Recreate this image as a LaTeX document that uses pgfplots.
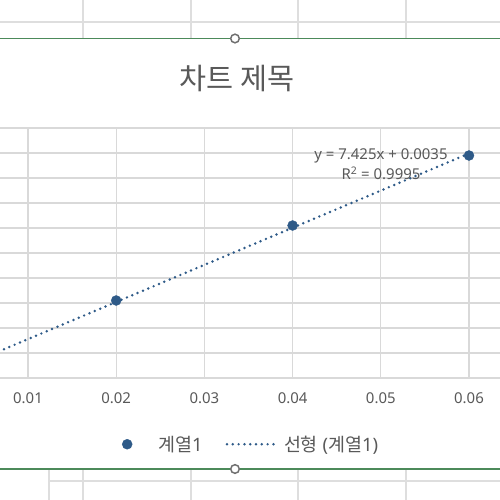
\documentclass[border=0pt]{standalone}
\usepackage{fontspec}
\setmainfont{Noto Sans}
\newfontfamily\kr{Noto Sans CJK KR}
\usepackage{pgfplots}
\pgfplotsset{compat=1.18}
\definecolor{txt}{HTML}{595959}
\definecolor{gridc}{HTML}{D9D9D9}
\definecolor{ser}{HTML}{2E5A88}
\definecolor{cellc}{HTML}{DEDEDE}
\definecolor{selg}{HTML}{4C8A5A}
\definecolor{handle}{HTML}{707070}
\begin{document}
\begin{tikzpicture}
\useasboundingbox (0bp,0bp) rectangle (500bp,500bp);
\clip (0bp,0bp) rectangle (500bp,500bp);
\fill[white] (0bp,0bp) rectangle (500bp,500bp);
% spreadsheet cells
\draw[cellc, line width=1.2bp] (0bp,478bp) -- (500bp,478bp);
\foreach \x in {83,191,298,406} \draw[cellc, line width=1.2bp] (\x bp,500bp) -- (\x bp,461.5bp);
\draw[cellc, line width=1.2bp] (49bp,19bp) -- (500bp,19bp);
\foreach \x in {49,83,191,298,406} \draw[cellc, line width=1.2bp] (\x bp,31bp) -- (\x bp,0bp);
% selection border
\draw[selg, line width=1.3bp] (0bp,461.5bp) -- (500bp,461.5bp);
\draw[selg, line width=1.3bp] (0bp,31bp) -- (500bp,31bp);
\draw[handle, fill=white, line width=1.5bp] (235bp,461.5bp) circle (4.3bp);
\draw[handle, fill=white, line width=1.5bp] (235bp,31bp) circle (4.3bp);
\begin{axis}[
  at={(-60.2bp,122bp)}, anchor=south west,
  scale only axis, width=617.4bp, height=250bp,
  xmin=0, xmax=0.07, ymin=0, ymax=0.5,
  xtick={0,0.01,0.02,0.03,0.04,0.05,0.06,0.07},
  xticklabels={,0.01,0.02,0.03,0.04,0.05,0.06,},
  ytick={0,0.05,0.1,0.15,0.2,0.25,0.3,0.35,0.4,0.45,0.5},
  yticklabels={},
  scaled x ticks=false, scaled y ticks=false,
  grid=major,
  major grid style={draw=gridc, line width=1.2bp},
  axis line style={draw=none},
  tick style={draw=none},
  xticklabel style={font=\fontsize{15}{18}\selectfont, text=txt, yshift=-11bp},
  legend columns=2,
  legend cell align=left,
  legend style={at={(0.2935,-0.265)}, anchor=west, draw=none, fill=none,
    inner xsep=0pt, inner ysep=0pt,
    font=\fontsize{18.5}{21}\selectfont, text=txt,
    nodes={inner sep=2bp},
    /tikz/every even column/.append style={column sep=21bp}},
]
\addplot[only marks, mark=*, mark size=5bp, color=ser,
  legend image code/.code={\path[draw=none, fill=none] (-6bp,-5bp) rectangle (29bp,5bp);
    \draw[only marks, mark=*, mark size=5bp, ser] plot coordinates {(0bp,0bp)};}]
  coordinates {(0,0) (0.02,0.155) (0.04,0.305) (0.06,0.445)};
\addlegendentry{{\kr 계열}1}
\addplot[ser, line width=2.7bp, line cap=round, dash pattern=on 0pt off 5.8bp,
  legend image code/.code={\path[draw=none, fill=none] (0bp,-5bp) rectangle (56bp,5bp);
    \draw[ser, line width=2.7bp, line cap=round, dash pattern=on 0pt off 5.8bp] (1bp,0bp) -- (50bp,0bp);}]
  coordinates {(0,0.0035) (0.06,0.4490)};
\addlegendentry{{\kr 선형} ({\kr 계열}1)}
\end{axis}
\node[anchor=base, font=\kr\fontsize{29.5}{33}\selectfont, text=txt] at (237bp,410bp) {차트 제목};
\node[anchor=base, font=\fontsize{15}{18}\selectfont, text=txt] at (381bp,340bp) {y = 7.425x + 0.0035};
\node[anchor=base, font=\fontsize{15}{18}\selectfont, text=txt] at (381bp,320bp) {R\textsuperscript{2} = 0.9995};
\end{tikzpicture}
\end{document}
